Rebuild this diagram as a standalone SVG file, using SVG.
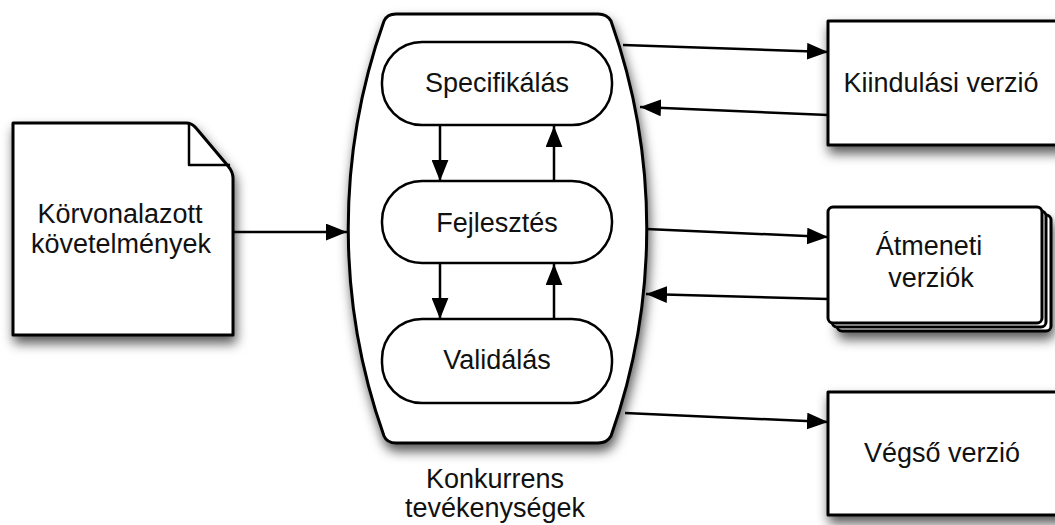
<svg xmlns="http://www.w3.org/2000/svg" width="1055" height="525" viewBox="0 0 1055 525">
  <defs>
    <filter id="sh" x="-20%" y="-20%" width="140%" height="150%">
      <feDropShadow dx="2" dy="7" stdDeviation="6" flood-color="#000" flood-opacity="0.65"/>
    </filter>
    <marker id="ah" viewBox="0 0 20 16" refX="20" refY="8" markerWidth="21" markerHeight="17" markerUnits="userSpaceOnUse" orient="auto">
      <path d="M0,0 L20,8 L0,16 Z" fill="#000"/>
    </marker>
    <style>
      .box { fill: #fff; stroke: #000; stroke-width: 3; stroke-linejoin: round; }
      .pill { fill: #fff; stroke: #000; stroke-width: 2.5; }
      .lbl { font-family: "Liberation Sans", Arial, sans-serif; font-size: 27px; fill: #111; text-anchor: middle; }
      .con { fill: none; stroke: #000; stroke-width: 2.5; marker-end: url(#ah); }
    </style>
  </defs>

  <g id="kovetelmenyek">
    <path class="box" filter="url(#sh)" d="M13,123 L186,123 Q192,123 196,128 L228,166 Q233,172 233,178 L233,335 L13,335 Z"/>
    <path fill="none" stroke="#000" stroke-width="2.5" stroke-linejoin="round" d="M189,124 L189,165 L230,165"/>
    <text class="lbl" x="120" y="223">Körvonalazott</text>
    <text class="lbl" x="121" y="253">követelmények</text>
  </g>

  <g id="konkurrens">
    <path class="box" filter="url(#sh)" d="M396,14 L598,14 Q607,14 611,21 A 620 620 0 0 1 611,436 Q607,443 598,443 L396,443 Q387,443 384,436 A 620 620 0 0 1 384,21 Q387,14 396,14 Z"/>
    <text class="lbl" x="495" y="488">Konkurrens</text>
    <text class="lbl" x="495" y="517">tevékenységek</text>
  </g>

  <g id="specifikalas">
    <rect class="pill" x="382" y="42" width="230" height="83" rx="40" ry="40"/>
    <text class="lbl" x="497" y="92">Specifikálás</text>
  </g>

  <g id="fejlesztes">
    <rect class="pill" x="382" y="181" width="230" height="82" rx="40" ry="40"/>
    <text class="lbl" x="497" y="232">Fejlesztés</text>
  </g>

  <g id="validalas">
    <rect class="pill" x="382" y="319" width="230" height="84" rx="40" ry="40"/>
    <text class="lbl" x="497" y="369">Validálás</text>
  </g>

  <g id="kiindulasi">
    <rect class="box" filter="url(#sh)" x="828" y="21" width="240" height="124"/>
    <text class="lbl" x="941" y="92">Kiindulási verzió</text>
  </g>

  <g id="atmeneti">
    <rect class="box" filter="url(#sh)" x="837" y="215" width="214" height="116" rx="5" ry="5" stroke-width="2.5"/>
    <rect class="box" x="832" y="211" width="214" height="116" rx="5" ry="5" stroke-width="2.5"/>
    <rect class="box" x="828" y="207" width="214" height="116" rx="5" ry="5"/>
    <text class="lbl" x="929" y="255">Átmeneti</text>
    <text class="lbl" x="931" y="287">verziók</text>
  </g>

  <g id="vegso">
    <rect class="box" filter="url(#sh)" x="828" y="392" width="240" height="123"/>
    <text class="lbl" x="942" y="462">Végső verzió</text>
  </g>

  <g id="connectors">
    <line class="con" x1="233" y1="232" x2="347" y2="232" stroke-width="3"/>
    <line class="con" x1="440" y1="125" x2="440" y2="181"/>
    <line class="con" x1="554" y1="181" x2="554" y2="126"/>
    <line class="con" x1="440" y1="263" x2="440" y2="319"/>
    <line class="con" x1="554" y1="319" x2="554" y2="264"/>
    <line class="con" x1="623" y1="45" x2="828" y2="52"/>
    <line class="con" x1="828" y1="115" x2="640" y2="107"/>
    <line class="con" x1="646" y1="229" x2="828" y2="237"/>
    <line class="con" x1="828" y1="299" x2="646" y2="294"/>
    <line class="con" x1="625" y1="413" x2="828" y2="422"/>
  </g>
</svg>
